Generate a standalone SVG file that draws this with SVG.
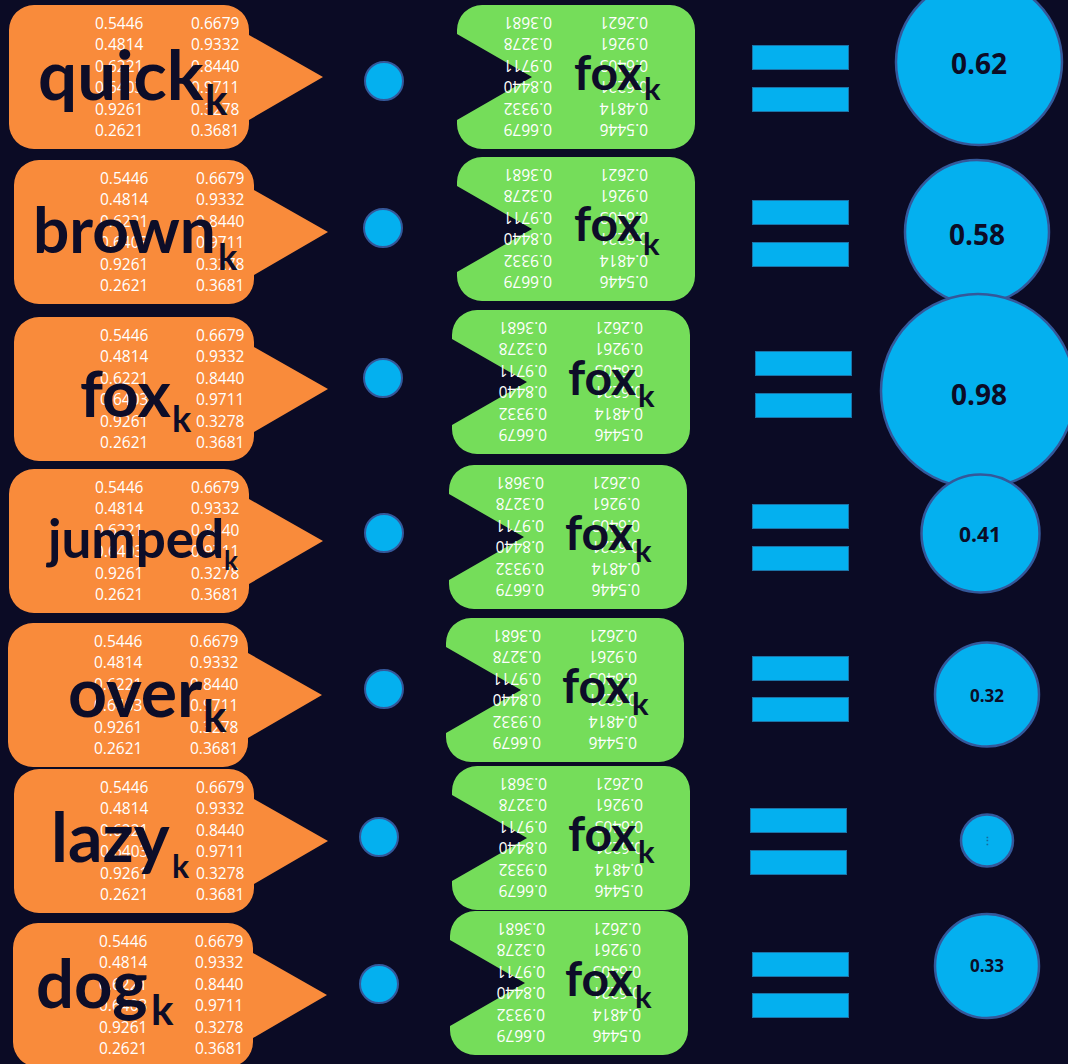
<svg xmlns="http://www.w3.org/2000/svg" xmlns:xlink="http://www.w3.org/1999/xlink" width="1068" height="1064" viewBox="0 0 1068 1064">
<style>
.bg{fill:#0b0b25}
.ob{fill:#f98b3b}
.gb{fill:#75dd5a}
.num{font-family:"Open Sans","Liberation Sans",sans-serif;font-size:15.5px;fill:#ffffff}
.lbl{font-family:Lato,"DejaVu Sans",sans-serif;font-weight:700;fill:#0d0d28}
.dot{fill:#04b0ef;stroke:#34589a;stroke-width:2}
.bar{fill:#04b0ef;stroke:#1b74a8;stroke-width:1}
.res{fill:#04b0ef;stroke:#34589a;stroke-width:2.5}
.rt{font-family:"Open Sans","Liberation Sans",sans-serif;font-weight:700;fill:#0c0c26;text-anchor:middle}
</style>
<defs>
<path id="obub" d="M25,0 H215 A25,25 0 0 1 240,25 V30 L314,72 L240,115 V119 A25,25 0 0 1 215,144 H25 A25,25 0 0 1 0,119 V25 A25,25 0 0 1 25,0 Z"/>
<path id="gbub" d="M0,25 A25,25 0 0 1 25,0 H213 A25,25 0 0 1 238,25 V119 A25,25 0 0 1 213,144 H25 A25,25 0 0 1 0,119 V115 L75,72 L0,29 Z"/>
<g id="onums" class="num">
<text x="86" y="24">0.5446</text><text x="182" y="24">0.6679</text>
<text x="86" y="45.4">0.4814</text><text x="182" y="45.4">0.9332</text>
<text x="86" y="66.8">0.6221</text><text x="182" y="66.8">0.8440</text>
<text x="86" y="88.2">0.6403</text><text x="182" y="88.2">0.9711</text>
<text x="86" y="109.6">0.9261</text><text x="182" y="109.6">0.3278</text>
<text x="86" y="131">0.2621</text><text x="182" y="131">0.3681</text>
</g>
<g id="gnums" class="num">
<text x="47" y="25">0.5446</text><text x="143" y="25">0.6679</text>
<text x="47" y="46.4">0.4814</text><text x="143" y="46.4">0.9332</text>
<text x="47" y="67.8">0.6221</text><text x="143" y="67.8">0.8440</text>
<text x="47" y="89.2">0.6403</text><text x="143" y="89.2">0.9711</text>
<text x="47" y="110.6">0.9261</text><text x="143" y="110.6">0.3278</text>
<text x="47" y="132">0.2621</text><text x="143" y="132">0.3681</text>
</g>
</defs>
<rect class="bg" x="0" y="0" width="1068" height="1064"/>

<!-- orange word bubbles -->
<g id="word-quick">
<use href="#obub" class="ob" transform="translate(9,5)"/>
<use href="#onums" transform="translate(9,5)"/>
<text class="lbl" x="38" y="100" font-size="69">quick</text><text class="lbl" x="205" y="115" font-size="42">k</text>
</g>
<g id="word-brown">
<use href="#obub" class="ob" transform="translate(14,160)"/>
<use href="#onums" transform="translate(14,160)"/>
<text class="lbl" x="33" y="253" font-size="64">brown</text><text class="lbl" x="218" y="270" font-size="36">k</text>
</g>
<g id="word-fox">
<use href="#obub" class="ob" transform="translate(14,317)"/>
<use href="#onums" transform="translate(14,317)"/>
<text class="lbl" x="80" y="417" font-size="64">fox</text><text class="lbl" x="172" y="432" font-size="36">k</text>
</g>
<g id="word-jumped">
<use href="#obub" class="ob" transform="translate(9,469)"/>
<use href="#onums" transform="translate(9,469)"/>
<text class="lbl" x="48" y="558" font-size="53">jumped</text><text class="lbl" x="224" y="570" font-size="26">k</text>
</g>
<g id="word-over">
<use href="#obub" class="ob" transform="translate(8,623)"/>
<use href="#onums" transform="translate(8,623)"/>
<text class="lbl" x="68" y="717" font-size="68">over</text><text class="lbl" x="203" y="732" font-size="44">k</text>
</g>
<g id="word-lazy">
<use href="#obub" class="ob" transform="translate(14,769)"/>
<use href="#onums" transform="translate(14,769)"/>
<text class="lbl" x="51" y="862" font-size="68">lazy</text><text class="lbl" x="172" y="878" font-size="32">k</text>
</g>
<g id="word-dog">
<use href="#obub" class="ob" transform="translate(13,923)"/>
<use href="#onums" transform="translate(13,923)"/>
<text class="lbl" x="36" y="1008" font-size="67">dog</text><text class="lbl" x="151" y="1025" font-size="42">k</text>
</g>

<!-- dot operators -->
<g id="dots">
<circle class="dot" cx="384" cy="81" r="19"/>
<circle class="dot" cx="383" cy="228" r="19"/>
<circle class="dot" cx="383" cy="378" r="19"/>
<circle class="dot" cx="384" cy="533" r="19"/>
<circle class="dot" cx="384" cy="689" r="19"/>
<circle class="dot" cx="379" cy="837" r="19"/>
<circle class="dot" cx="379" cy="984" r="19"/>
</g>

<!-- green fox bubbles -->
<g id="fox-1">
<use href="#gbub" class="gb" transform="translate(457,5)"/>
<use href="#gnums" transform="translate(695,149) rotate(180)"/>
<text class="lbl" x="574" y="90" font-size="48">fox</text><text class="lbl" x="644" y="100" font-size="31">k</text>
</g>
<g id="fox-2">
<use href="#gbub" class="gb" transform="translate(457,157)"/>
<use href="#gnums" transform="translate(695,301) rotate(180)"/>
<text class="lbl" x="574" y="241" font-size="48">fox</text><text class="lbl" x="643" y="255" font-size="31">k</text>
</g>
<g id="fox-3">
<use href="#gbub" class="gb" transform="translate(452,310)"/>
<use href="#gnums" transform="translate(690,454) rotate(180)"/>
<text class="lbl" x="568" y="395" font-size="48">fox</text><text class="lbl" x="638" y="407" font-size="31">k</text>
</g>
<g id="fox-4">
<use href="#gbub" class="gb" transform="translate(449,465)"/>
<use href="#gnums" transform="translate(687,609) rotate(180)"/>
<text class="lbl" x="565" y="550" font-size="48">fox</text><text class="lbl" x="635" y="562" font-size="31">k</text>
</g>
<g id="fox-5">
<use href="#gbub" class="gb" transform="translate(446,618)"/>
<use href="#gnums" transform="translate(684,762) rotate(180)"/>
<text class="lbl" x="562" y="703" font-size="48">fox</text><text class="lbl" x="632" y="715" font-size="31">k</text>
</g>
<g id="fox-6">
<use href="#gbub" class="gb" transform="translate(452,766)"/>
<use href="#gnums" transform="translate(690,910) rotate(180)"/>
<text class="lbl" x="568" y="851" font-size="48">fox</text><text class="lbl" x="638" y="863" font-size="31">k</text>
</g>
<g id="fox-7">
<use href="#gbub" class="gb" transform="translate(450,911)"/>
<use href="#gnums" transform="translate(688,1055) rotate(180)"/>
<text class="lbl" x="565" y="996" font-size="48">fox</text><text class="lbl" x="635" y="1008" font-size="31">k</text>
</g>

<!-- equals signs -->
<g id="equals">
<rect class="bar" x="752.5" y="45.5" width="96" height="24"/><rect class="bar" x="752.5" y="87.5" width="96" height="24"/>
<rect class="bar" x="752.5" y="200.5" width="96" height="24"/><rect class="bar" x="752.5" y="242.5" width="96" height="24"/>
<rect class="bar" x="755.5" y="351.5" width="96" height="24"/><rect class="bar" x="755.5" y="393.5" width="96" height="24"/>
<rect class="bar" x="752.5" y="504.5" width="96" height="24"/><rect class="bar" x="752.5" y="546.5" width="96" height="24"/>
<rect class="bar" x="752.5" y="656.5" width="96" height="24"/><rect class="bar" x="752.5" y="697.5" width="96" height="24"/>
<rect class="bar" x="750.5" y="808.5" width="96" height="24"/><rect class="bar" x="750.5" y="850.5" width="96" height="24"/>
<rect class="bar" x="752.5" y="952.5" width="96" height="24"/><rect class="bar" x="752.5" y="993.5" width="96" height="24"/>
</g>

<!-- result circles -->
<g id="res-1"><circle class="res" cx="979" cy="62" r="83"/><text class="rt" x="979" y="74" font-size="28">0.62</text></g>
<g id="res-2"><circle class="res" cx="977" cy="232" r="72"/><text class="rt" x="977" y="245" font-size="28">0.58</text></g>
<g id="res-3"><circle class="res" cx="978" cy="391" r="97"/><text class="rt" x="979" y="405" font-size="28">0.98</text></g>
<g id="res-4"><circle class="res" cx="980.5" cy="533.5" r="59"/><text class="rt" x="980" y="542" font-size="21">0.41</text></g>
<g id="res-5"><circle class="res" cx="987" cy="694.5" r="52"/><text class="rt" x="987" y="702" font-size="17">0.32</text></g>
<g id="res-6"><circle class="res" cx="987" cy="840.5" r="26"/><text class="rt" x="987" y="845" font-size="11" style="fill:#1468a0">⋮</text></g>
<g id="res-7"><circle class="res" cx="987" cy="966" r="52"/><text class="rt" x="987" y="972" font-size="17">0.33</text></g>
</svg>
